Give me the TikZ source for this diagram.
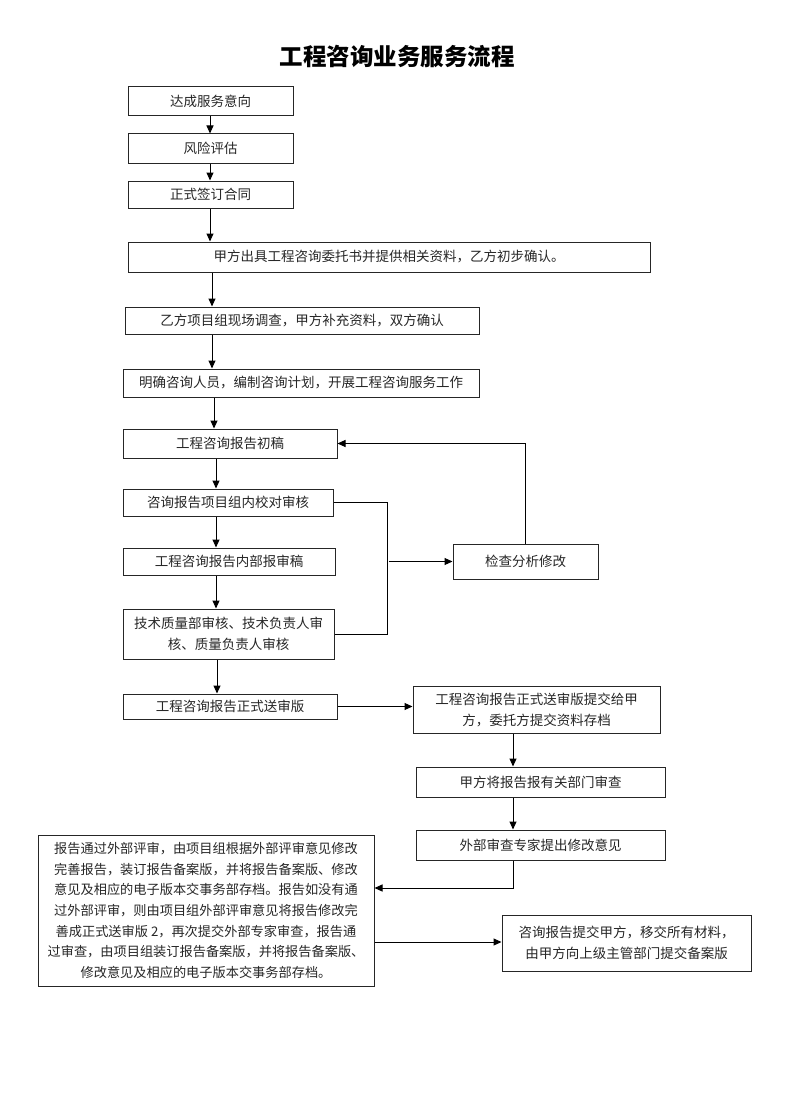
\documentclass[tikz,border=0pt]{standalone}
\usepackage{fontspec}
\setmainfont{Noto Sans CJK SC}
\usetikzlibrary{arrows.meta}
\begin{document}
\begin{tikzpicture}[x=1pt,y=-1pt,
  box/.style={draw=black!85, line width=1pt, inner sep=0pt, align=center,
    font=\fontsize{13.5}{21}\selectfont, text=black!85},
  arr/.style={line width=1pt, -{Triangle[length=8pt,width=7pt]}},
  ln/.style={line width=1pt}]
\useasboundingbox (0,0) rectangle (786,1113);
\node[font=\fontsize{23.5}{28}\selectfont\bfseries] (title) at (397,56) {工程咨询业务服务流程};
\node[box, minimum width=165, minimum height=29] (b1) at (210.5,101.5) {达成服务意向};
\node[box, minimum width=165, minimum height=29] (b2) at (210.5,148.5) {风险评估};
\node[box, minimum width=165, minimum height=27] (b3) at (210.5,194.5) {正式签订合同};
\node[box, minimum width=522, minimum height=30] (b4) at (389,257) {甲方出具工程咨询委托书并提供相关资料，乙方初步确认。};
\node[box, minimum width=354, minimum height=27] (b5) at (302,320.5) {乙方项目组现场调查，甲方补充资料，双方确认};
\node[box, minimum width=356, minimum height=28] (b6) at (301,383) {明确咨询人员，编制咨询计划，开展工程咨询服务工作};
\node[box, minimum width=214, minimum height=29] (b7) at (230,443.5) {工程咨询报告初稿};
\node[box, minimum width=210, minimum height=27] (b8) at (228,502.5) {咨询报告项目组内校对审核};
\node[box, minimum width=212, minimum height=27] (b9) at (229,561.5) {工程咨询报告内部报审稿};
\node[box, minimum width=211, minimum height=50] (b10) at (228.5,634) {技术质量部审核、技术负责人审\\核、质量负责人审核};
\node[box, minimum width=214, minimum height=25] (b11) at (230,706.5) {工程咨询报告正式送审版};
\node[box, minimum width=145, minimum height=35] (b12) at (525.5,561.5) {检查分析修改};
\node[box, minimum width=247, minimum height=47] (b13) at (536.5,709.5) {工程咨询报告正式送审版提交给甲\\方，委托方提交资料存档};
\node[box, minimum width=249, minimum height=30] (b14) at (540.5,782) {甲方将报告报有关部门审查};
\node[box, minimum width=249, minimum height=30] (b15) at (540.5,845) {外部审查专家提出修改意见};
\node[box, minimum width=336, minimum height=151, font=\fontsize{13.2}{20.6}\selectfont] (b16) at (206,910.5) {报告通过外部评审，由项目组根据外部评审意见修改\\完善报告，装订报告备案版，并将报告备案版、修改\\意见及相应的电子版本交事务部存档。报告如没有通\\过外部评审，则由项目组外部评审意见将报告修改完\\善成正式送审版 2，再次提交外部专家审查，报告通\\过审查，由项目组装订报告备案版，并将报告备案版、\\修改意见及相应的电子版本交事务部存档。};
\node[box, minimum width=249, minimum height=56] (b17) at (626.5,943) {咨询报告提交甲方，移交所有材料，\\由甲方向上级主管部门提交备案版};
% guide coordinates
\coordinate (x1) at (210,0);
\coordinate (x2) at (212,0);
\coordinate (x3) at (214,0);
\coordinate (x4) at (216,0);
\coordinate (x5) at (217,0);
\coordinate (xr) at (513,0);
\coordinate (cb) at (387,502.5);
\coordinate (cm) at (389,561.5);
\coordinate (k1) at (513,888);
\coordinate (k2) at (0,942);
% left column
\draw[arr] (b1.south -| x1) -- (b2.north -| x1);
\draw[arr] (b2.south -| x1) -- (b3.north -| x1);
\draw[arr] (b3.south -| x1) -- (b4.north -| x1);
\draw[arr] (b4.south -| x2) -- (b5.north -| x2);
\draw[arr] (b5.south -| x2) -- (b6.north -| x2);
\draw[arr] (b6.south -| x3) -- (b7.north -| x3);
\draw[arr] (b7.south -| x4) -- (b8.north -| x4);
\draw[arr] (b8.south -| x4) -- (b9.north -| x4);
\draw[arr] (b9.south -| x4) -- (b10.north -| x4);
\draw[arr] (b10.south -| x5) -- (b11.north -| x5);
% review loop
\draw[ln] (b8.east) -- (cb) |- (b10.east);
\draw[arr] (cm) -- (b12.west);
\draw[arr] (b12.north) |- (b7.east);
% right column
\draw[arr] (b11.east) -- (b11.east -| b13.west);
\draw[arr] (b13.south -| xr) -- (b14.north -| xr);
\draw[arr] (b14.south -| xr) -- (b15.north -| xr);
\draw[arr] (b15.south -| xr) -- (k1) -- (k1 -| b16.east);
\draw[arr] (b16.east |- k2) -- (k2 -| b17.west);
\end{tikzpicture}
\end{document}
